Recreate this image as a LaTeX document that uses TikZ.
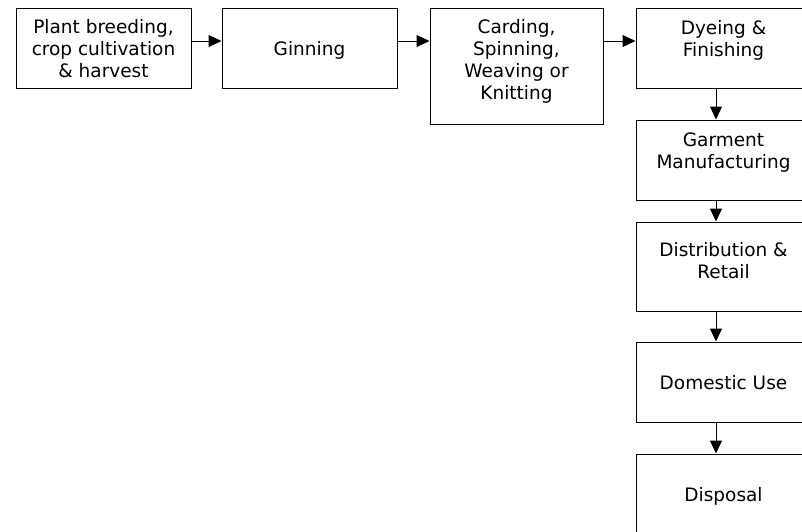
\documentclass[tikz,border=0pt]{standalone}
\usepackage{fontspec}
\setmainfont{DejaVu Sans}
\usepackage{tikz}
\usetikzlibrary{%
arrows.meta,%
calc}

\begin{document}
\begin{tikzpicture}[x=1pt,y=-1pt,
    stage/.style={draw,line width=1pt,minimum width=175pt,minimum height=80pt,
      align=center,inner sep=0pt,text depth=-6pt,
      font=\fontsize{18.5}{22}\selectfont},
    topstage/.style={stage,text depth=18.4pt},
    flow/.style={line width=1pt,-{Triangle[length=13pt,width=12pt]}}]
\useasboundingbox (0,0) rectangle (802,531);
\clip (0,0) rectangle (802,531);
% top row
\node[stage] (plant) at (103.5,48) {Plant breeding,\\ crop cultivation\\ \& harvest};
\node[stage] (gin) at (309.5,48) {Ginning};
\node[stage,minimum width=173pt,minimum height=116pt,text depth=12.4pt] (card) at (516.5,66)
  {Carding,\\ Spinning,\\ Weaving or\\ Knitting};
\node[topstage] (dye) at (723.5,48) {Dyeing \&\\ Finishing};
% right column
\node[topstage] (garment) at (723.5,160) {Garment\\ Manufacturing};
\node[topstage,minimum height=89pt,text depth=12.4pt] (retail) at (723.5,266.5) {Distribution \&\\ Retail};
\node[stage] (use) at (723.5,382) {Domestic Use};
\node[stage] (disposal) at (723.5,494) {Disposal};
\begin{scope}[flow]
  \draw ([yshift=7pt]plant.east) -- ([yshift=7pt]gin.west);
  \draw ([yshift=7pt]gin.east) -- ([yshift=7pt]gin.east -| card.west);
  \draw ([yshift=7pt]dye.west -| card.east) -- ([yshift=7pt]dye.west);
  \draw ([xshift=-7.5pt]dye.south) -- ([xshift=-7.5pt]garment.north);
  \draw ([xshift=-7.5pt]garment.south) -- ([xshift=-7.5pt]retail.north);
  \draw ([xshift=-7.5pt]retail.south) -- ([xshift=-7.5pt]use.north);
  \draw ([xshift=-7.5pt]use.south) -- ([xshift=-7.5pt]disposal.north);
\end{scope}
\end{tikzpicture}
\end{document}
